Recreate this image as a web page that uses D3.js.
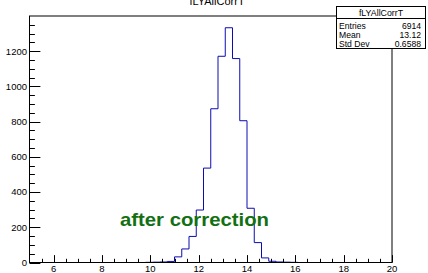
<!DOCTYPE html>
<html>
<head>
<meta charset="utf-8">
<script src="https://cdn.jsdelivr.net/npm/d3@7"></script>
<style>
  html, body { margin: 0; padding: 0; background: #fff; }
  svg { display: block; font-family: "Liberation Sans", Arial, sans-serif; }
</style>
</head>
<body>
<div id="chart"></div>
<script>
// histogram definition (TH1 style: 50 bins from 5 to 20)
var histName = "fLYAllCorrT";
var xMin = 5, xMax = 20, nBins = 50;

// bin contents
var counts = [
    0, 0, 0, 0, 0, 0, 0, 0, 0, 0,
    0, 0, 0, 0, 0, 0, 1, 2, 3, 6,
    32, 77, 148, 298, 536, 873, 1171, 1333, 1158, 805,
    308, 113, 26, 7, 3, 2, 1, 0, 0, 0,
    0, 0, 0, 0, 0, 0, 0, 0, 0, 0
];

var xTicks = [6, 8, 10, 12, 14, 16, 18, 20];
var yTicks = [0, 200, 400, 600, 800, 1000, 1200];

var statLabels = ["Entries", "Mean", "Std Dev"];
var statValues = ["6914", "13.12", "0.6588"];

var annotation = "after correction";

var width = 428, height = 273;
var frame = {left: 29.5, right: 392, top: 16, bottom: 262.5};

var svg = d3.select('#chart').append('svg')
    .attr('width', width)
    .attr('height', height);

var x = d3.scaleLinear().domain([xMin, xMax]).range([frame.left, frame.right]);
var yMax = d3.max(counts) * 1.05;
var y = d3.scaleLinear().domain([0, yMax]).range([frame.bottom, frame.top]);

// title, mostly cut off at the top edge (as in the original)
svg.append('text')
    .attr('x', 217)
    .attr('y', 5)
    .attr('text-anchor', 'middle')
    .attr('font-size', 11)
    .attr('fill', '#000')
    .text(histName);

// histogram as a step outline
var binW = (xMax - xMin) / nBins;
var pts = [[x(xMin), y(0)]];
counts.forEach(function(c, i) {
    var x0 = xMin + i * binW, x1 = x0 + binW;
    pts.push([x(x0), y(c)]);
    pts.push([x(x1), y(c)]);
});
pts.push([x(xMax), y(0)]);
svg.append('path')
    .attr('d', d3.line()(pts))
    .attr('fill', 'none')
    .attr('stroke', '#0c0cb0')
    .attr('stroke-width', 1);

// frame
svg.append('rect')
    .attr('x', frame.left)
    .attr('y', frame.top)
    .attr('width', frame.right - frame.left)
    .attr('height', frame.bottom - frame.top)
    .attr('fill', 'none')
    .attr('stroke', '#000')
    .attr('stroke-width', 1);

// x axis ticks (pointing up into the frame)
var xMinorTicks = [];
for (var v = 5.5; v < 20; v += 0.5) {
    if (Math.abs(v % 2) > 0.01) xMinorTicks.push(v);
}
var gx = svg.append('g');
gx.selectAll('.xmaj').data(xTicks).join('line')
    .attr('x1', d => Math.round(x(d)) + 0.5).attr('x2', d => Math.round(x(d)) + 0.5)
    .attr('y1', frame.bottom).attr('y2', frame.bottom - 7.4)
    .attr('stroke', '#000');
gx.selectAll('.xmin').data(xMinorTicks).join('line')
    .attr('x1', d => Math.round(x(d)) + 0.5).attr('x2', d => Math.round(x(d)) + 0.5)
    .attr('y1', frame.bottom).attr('y2', frame.bottom - 3.7)
    .attr('stroke', '#000');
gx.selectAll('text').data(xTicks).join('text')
    .attr('x', d => x(d))
    .attr('y', 272)
    .attr('text-anchor', 'middle')
    .attr('font-size', 9.5)
    .attr('fill', '#000')
    .text(d => d);

// y axis ticks (pointing right into the frame)
var yMinorTicks = [];
for (var w = 50; w < yMax; w += 50) {
    if (w % 200 !== 0) yMinorTicks.push(w);
}
var gy = svg.append('g');
gy.selectAll('.ymaj').data(yTicks).join('line')
    .attr('x1', frame.left).attr('x2', frame.left + 10.9)
    .attr('y1', d => Math.round(y(d)) + 0.5).attr('y2', d => Math.round(y(d)) + 0.5)
    .attr('stroke', '#000');
gy.selectAll('.ymin').data(yMinorTicks).join('line')
    .attr('x1', frame.left).attr('x2', frame.left + 5.4)
    .attr('y1', d => Math.round(y(d)) + 0.5).attr('y2', d => Math.round(y(d)) + 0.5)
    .attr('stroke', '#000');
gy.selectAll('text').data(yTicks).join('text')
    .attr('x', 27)
    .attr('y', d => y(d) + 3.4)
    .attr('text-anchor', 'end')
    .attr('font-size', 9.5)
    .attr('fill', '#000')
    .text(d => d);

// annotation
svg.append('text')
    .attr('x', 120)
    .attr('y', 226)
    .attr('font-size', 19)
    .attr('font-weight', 'bold')
    .attr('fill', '#127012')
    .attr('textLength', 149)
    .attr('lengthAdjust', 'spacingAndGlyphs')
    .text(annotation);

// stats box
var box = {x: 336.5, y: 6.5, w: 89, h: 42};
var gs = svg.append('g');
gs.append('rect')
    .attr('x', box.x).attr('y', box.y)
    .attr('width', box.w).attr('height', box.h)
    .attr('fill', '#fff')
    .attr('stroke', '#000');
gs.append('line')
    .attr('x1', box.x).attr('x2', box.x + box.w)
    .attr('y1', 18.5).attr('y2', 18.5)
    .attr('stroke', '#000');
gs.append('text')
    .attr('x', box.x + box.w / 2)
    .attr('y', 16.3)
    .attr('text-anchor', 'middle')
    .attr('font-size', 8.8)
    .text(histName);
var rowY = [28.5, 37.6, 46.6];
gs.selectAll('.lab').data(statLabels).join('text')
    .attr('x', box.x + 2.5)
    .attr('y', (d, i) => rowY[i])
    .attr('font-size', 8.6)
    .text(d => d);
gs.selectAll('.val').data(statValues).join('text')
    .attr('x', 421)
    .attr('y', (d, i) => rowY[i])
    .attr('text-anchor', 'end')
    .attr('font-size', 8.6)
    .text(d => d);
</script>
</body>
</html>
